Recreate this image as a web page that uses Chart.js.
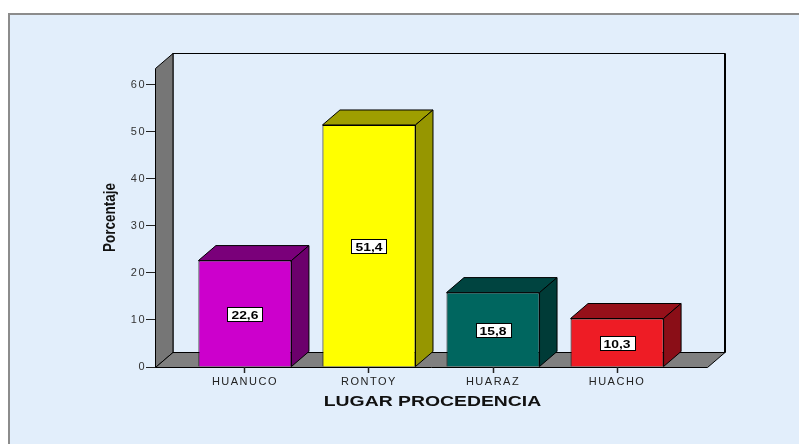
<!DOCTYPE html>
<html>
<head>
<meta charset="utf-8">
<script src="https://cdn.jsdelivr.net/npm/chart.js@4.4.1/dist/chart.umd.min.js"></script>
<style>
  html, body { margin: 0; padding: 0; background: #fff; }
  #wrap { width: 799px; height: 444px; }
</style>
</head>
<body>
<div id="wrap"><canvas id="chart" width="799" height="444"></canvas></div>
<script>
const categories = ['HUANUCO', 'RONTOY', 'HUARAZ', 'HUACHO'];
const percentages = [22.6, 51.4, 15.8, 10.3];
const frontColors = ['#CC00CC', '#FFFF00', '#00665F', '#EE1C25'];
const topColors = ['#7A007A', '#9E9E00', '#004440', '#96101A'];
const sideColors = ['#6C006C', '#969600', '#003B37', '#8A0E17'];
const yTicks = [0, 10, 20, 30, 40, 50, 60];
const yTitle = 'Porcentaje';
const xTitle = 'LUGAR PROCEDENCIA';

const DX = 17.5, DY = -15;   // depth of the fake 3d
const BG = '#E2EEFB';
const FONT = '"Liberation Sans", Arial, sans-serif';

function poly(ctx, pts, fill) {
  ctx.beginPath();
  ctx.moveTo(pts[0][0], pts[0][1]);
  for (let i = 1; i < pts.length; i++) ctx.lineTo(pts[i][0], pts[i][1]);
  ctx.closePath();
  ctx.fillStyle = fill;
  ctx.fill();
  ctx.stroke();
}

const box3d = {
  id: 'box3d',
  beforeDraw(chart) {
    const ctx = chart.ctx, a = chart.chartArea;
    const L = a.left + 0.5, R = a.right + 0.5, T = a.top + 0.5, B = a.bottom + 0.5;
    ctx.save();
    ctx.fillStyle = '#fff';
    ctx.fillRect(0, 0, chart.width, chart.height);
    ctx.fillStyle = BG;
    ctx.fillRect(8, 13, chart.width - 8, chart.height - 13);
    ctx.strokeStyle = '#8c8c8c';
    ctx.lineWidth = 2;
    ctx.beginPath();
    ctx.moveTo(9, chart.height); ctx.lineTo(9, 14); ctx.lineTo(chart.width, 14);
    ctx.stroke();

    ctx.lineWidth = 1;
    ctx.strokeStyle = '#000';
    // back wall
    ctx.strokeRect(L + DX, T + DY, R - L, B - T);
    ctx.lineWidth = 2;
    ctx.beginPath();
    ctx.moveTo(R + DX, T + DY); ctx.lineTo(R + DX, B + DY);
    ctx.stroke();
    ctx.lineWidth = 1;
    // left wall
    poly(ctx, [[L, B], [L, T], [L + DX, T + DY], [L + DX, B + DY]], '#767676');
    // floor
    poly(ctx, [[L, B], [L + DX, B + DY], [R + DX, B + DY], [R, B]], '#808080');
    ctx.restore();
    ctx.letterSpacing = '1.5px';
  },
  beforeDatasetsDraw(chart) {
    const ctx = chart.ctx;
    ctx.save();
    ctx.strokeStyle = '#000';
    ctx.lineWidth = 1;
    chart.getDatasetMeta(0).data.forEach((bar, i) => {
      const p = bar.getProps(['x', 'y', 'base', 'width'], true);
      const l = p.x - p.width / 2, r = p.x + p.width / 2;
      poly(ctx, [[l, p.y], [l + DX, p.y + DY], [r + DX, p.y + DY], [r, p.y]], topColors[i]);
      poly(ctx, [[r, p.y], [r + DX, p.y + DY], [r + DX, p.base + DY], [r, p.base]], sideColors[i]);
    });
    ctx.restore();
  },
  afterDatasetsDraw(chart) {
    const ctx = chart.ctx;
    chart.getDatasetMeta(0).data.forEach((bar, i) => {
      const p = bar.getProps(['x', 'y', 'base'], true);
      const txt = percentages[i].toFixed(1).replace('.', ',');
      const cy = Math.round((p.y + p.base) / 2) + 1;
      ctx.save();
      ctx.letterSpacing = '0px';
      ctx.font = 'bold 11px ' + FONT;
      const w = ctx.measureText(txt).width * 1.26;
      ctx.fillStyle = '#fff';
      ctx.strokeStyle = '#000';
      ctx.lineWidth = 1;
      const bx = Math.round(p.x - w / 2 - 4) + 0.5, bw = Math.round(w + 8);
      ctx.fillRect(bx, cy - 7.5, bw, 14);
      ctx.strokeRect(bx, cy - 7.5, bw, 14);
      ctx.translate(p.x, cy);
      ctx.scale(1.26, 1);
      ctx.fillStyle = '#000';
      ctx.textAlign = 'center';
      ctx.textBaseline = 'middle';
      ctx.fillText(txt, 0, 0.5);
      ctx.restore();
    });
  },
  afterDraw(chart) {
    const ctx = chart.ctx, a = chart.chartArea;
    ctx.save();
    ctx.letterSpacing = '0px';
    ctx.fillStyle = '#111';
    ctx.textAlign = 'center';
    ctx.textBaseline = 'middle';
    ctx.font = 'bold 15.5px ' + FONT;
    ctx.save();
    ctx.translate((a.left + a.right) / 2 + 1.5, a.bottom + 35);
    ctx.scale(1.25, 1);
    ctx.fillText(xTitle, 0, 0);
    ctx.restore();
    ctx.font = 'bold 13.5px ' + FONT;
    ctx.translate(110, (a.top + a.bottom) / 2);
    ctx.rotate(-Math.PI / 2);
    ctx.scale(1, 1.25);
    ctx.fillText(yTitle, 0, 0);
    ctx.restore();
    ctx.letterSpacing = '0px';
  }
};

new Chart(document.getElementById('chart'), {
  type: 'bar',
  data: {
    datasets: [{
      data: percentages.map((v, i) => ({ x: i, y: v })),
      backgroundColor: frontColors,
      borderColor: '#000',
      borderWidth: 1,
      barPercentage: 0.75,
      categoryPercentage: 1
    }]
  },
  options: {
    responsive: false,
    animation: false,
    layout: { padding: { left: 0, right: 92, top: 68, bottom: 0 } },
    plugins: { legend: { display: false }, tooltip: { enabled: false } },
    scales: {
      x: {
        type: 'linear', min: -0.725, max: 3.725, offset: false,
        afterBuildTicks: s => { s.ticks = categories.map((c, i) => ({ value: i })); },
        afterFit: s => { s.height = 77; },
        grid: { offset: false, drawOnChartArea: false, drawTicks: true, tickLength: 6, tickWidth: 1.5, color: '#222' },
        border: { display: false },
        ticks: {
          callback: v => categories[v],
          autoSkip: false, maxRotation: 0, padding: 2,
          color: '#222', font: { family: FONT, size: 11 }
        }
      },
      y: {
        min: 0, max: 63.5,
        afterBuildTicks: s => { s.ticks = yTicks.map(v => ({ value: v })); },
        afterFit: s => { s.width = 155; },
        grid: { drawOnChartArea: false, drawTicks: true, tickLength: 9, color: '#222' },
        border: { display: false },
        ticks: { padding: 0, color: '#333', font: { family: FONT, size: 11 } }
      }
    }
  },
  plugins: [box3d]
});
</script>
</body>
</html>
